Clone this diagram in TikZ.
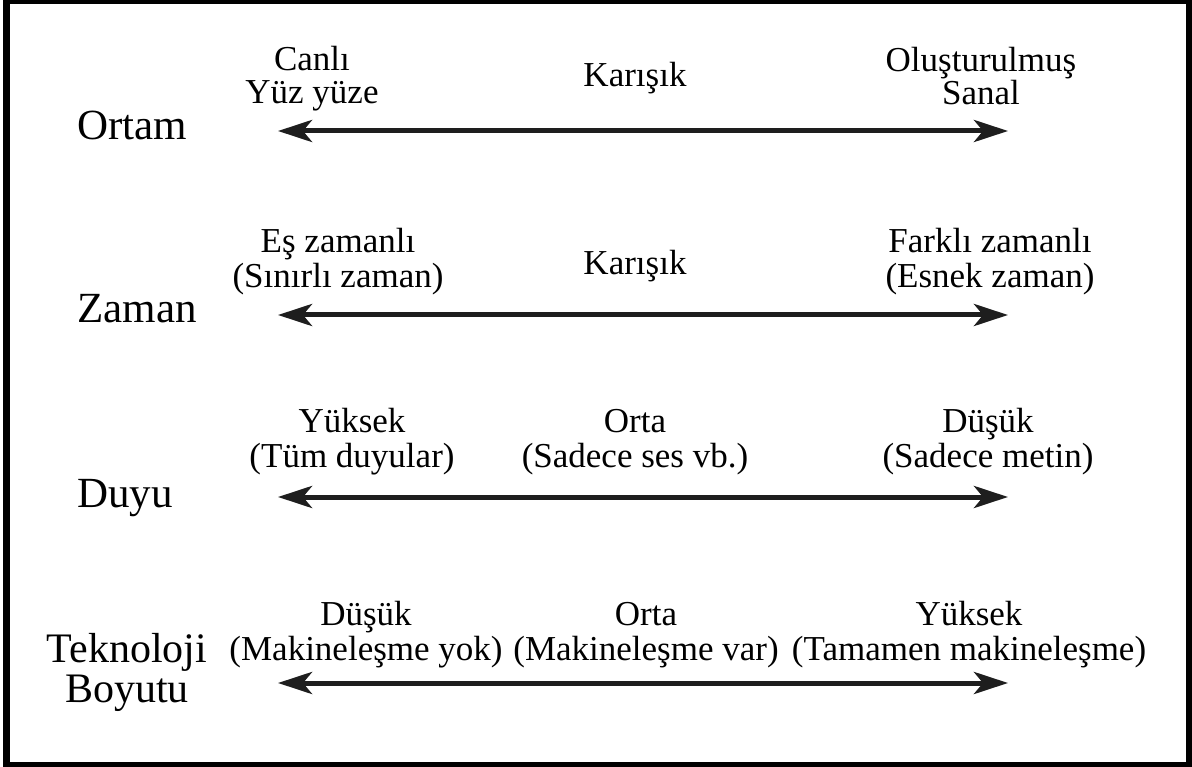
\documentclass[tikz,border=0pt]{standalone}
\usepackage{fontspec}
\setmainfont{Liberation Serif}
\usetikzlibrary{arrows.meta}
\definecolor{ink}{HTML}{1E1E1E}
\tikzset{
  lbl/.style={anchor=base, inner sep=0pt, font=\fontsize{35}{36}\selectfont, text=black},
  dimlbl/.style={anchor=base west, inner sep=0pt, font=\fontsize{43}{44}\selectfont, text=black},
  dimlblc/.style={anchor=base, inner sep=0pt, font=\fontsize{42}{43}\selectfont, text=black},
  tip/.tip={Stealth[length=34pt,width=22pt,inset=9pt]},
  scalearrow/.style={line width=5pt, draw=ink, tip-tip},
}
\begin{document}
\begin{tikzpicture}[x=1pt,y=-1pt]
\useasboundingbox (0,0) rectangle (1192,767);
% frame
\fill[black] (3,0) rectangle (1192,767);
\fill[white] (9.5,4.5) rectangle (1186,762);

% row 1: Ortam
\node[dimlbl] (d1) at (77,140) {Ortam};
\node[lbl] (r1la) at (312,71) {Canlı};
\node[lbl] (r1lb) at (312,104) {Yüz yüze};
\node[lbl] (r1m) at (635,87) {Karışık};
\node[lbl] (r1ra) at (981,72) {Oluşturulmuş};
\node[lbl] (r1rb) at (981,105) {Sanal};
\coordinate (a1l) at (278,131);
\coordinate (a1r) at (1008,131);
\draw[scalearrow] (a1l) -- (a1r);

% row 2: Zaman
\node[dimlbl] (d2) at (77,323) {Zaman};
\node[lbl] (r2la) at (338,253) {Eş zamanlı};
\node[lbl] (r2lb) at (338,288) {(Sınırlı zaman)};
\node[lbl] (r2m) at (635,275) {Karışık};
\node[lbl] (r2ra) at (990,253) {Farklı zamanlı};
\node[lbl] (r2rb) at (990,288) {(Esnek zaman)};
\coordinate (a2l) at (278,315);
\coordinate (a2r) at (1008,315);
\draw[scalearrow] (a2l) -- (a2r);

% row 3: Duyu
\node[dimlbl] (d3) at (77,507) {Duyu};
\node[lbl] (r3la) at (352,432) {Yüksek};
\node[lbl] (r3lb) at (352,467) {(Tüm duyular)};
\node[lbl] (r3ma) at (635,432) {Orta};
\node[lbl] (r3mb) at (635,467) {(Sadece ses vb.)};
\node[lbl] (r3ra) at (988,432) {Düşük};
\node[lbl] (r3rb) at (988,467) {(Sadece metin)};
\coordinate (a3l) at (278,497);
\coordinate (a3r) at (1008,497);
\draw[scalearrow] (a3l) -- (a3r);

% row 4: Teknoloji Boyutu
\node[dimlblc] (d4a) at (127,662) {Teknoloji};
\node[dimlblc] (d4b) at (127,702) {Boyutu};
\node[lbl] (r4la) at (366,625) {Düşük};
\node[lbl] (r4lb) at (366,660) {(Makineleşme yok)};
\node[lbl] (r4ma) at (646,625) {Orta};
\node[lbl] (r4mb) at (646,660) {(Makineleşme var)};
\node[lbl] (r4ra) at (969,625) {Yüksek};
\node[lbl] (r4rb) at (969,660) {(Tamamen makineleşme)};
\coordinate (a4l) at (278,683);
\coordinate (a4r) at (1008,683);
\draw[scalearrow] (a4l) -- (a4r);
\end{tikzpicture}
\end{document}
